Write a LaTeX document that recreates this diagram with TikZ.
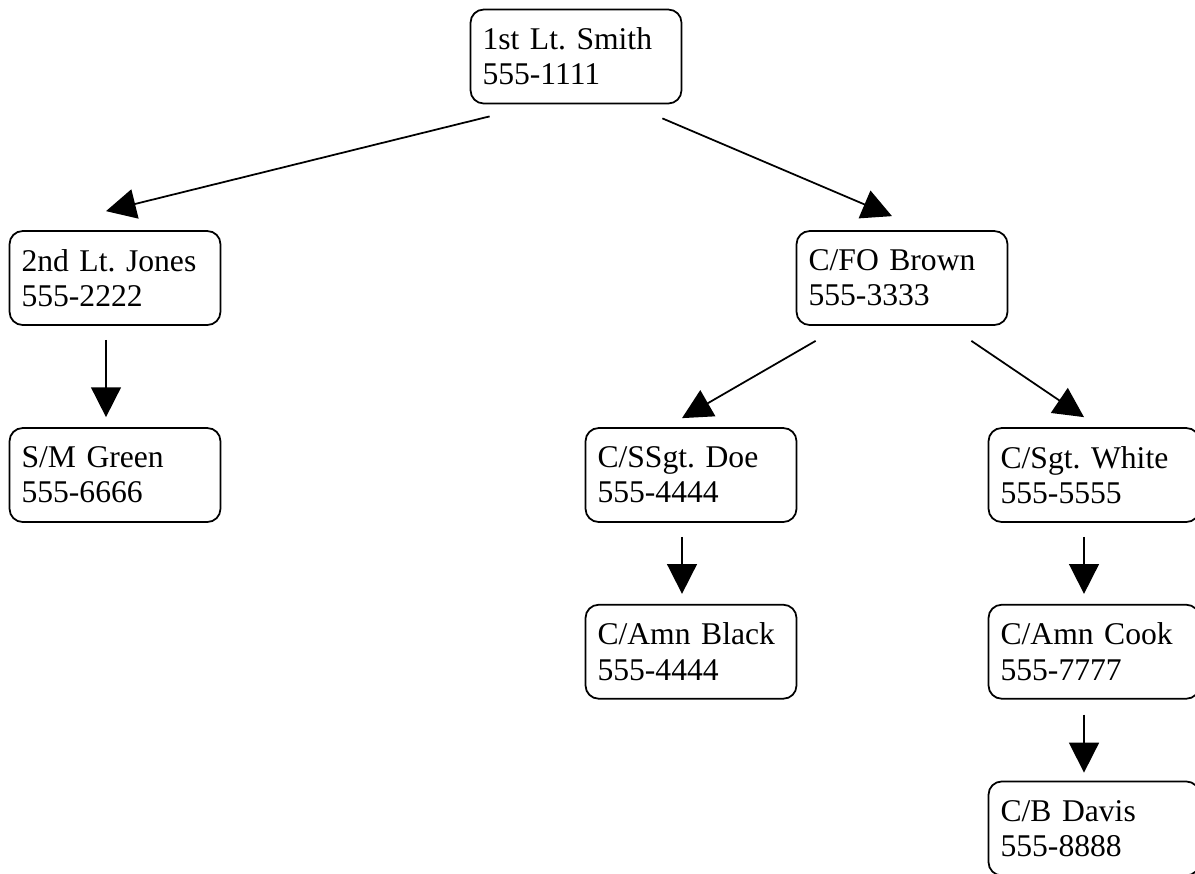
\documentclass[tikz,border=0pt]{standalone}
\usepackage{fontspec}
\setmainfont{Liberation Serif}
\usepackage{tikz}
\usetikzlibrary{positioning,arrows.meta}
\frenchspacing

\begin{document}
\begin{tikzpicture}[
x=0.02cm, y=-0.02cm,
node distance=1.62cm,
box/.style={draw, line width=1pt, rounded corners=7.5pt, align=left, text width=3.74cm, inner xsep=0.24cm, minimum height=1.88cm, font=\fontsize{18}{20}\selectfont},
arr/.style={-{Triangle[length=17pt,width=17pt]}, line width=1pt}
]
\clip (0,0) rectangle (1195,873);
\node[box] (smith) at (576,56.5) {1st Lt. Smith\\555-1111};
\node[box] (jones) at (115,278) {2nd Lt. Jones\\555-2222};
\node[box] (brown) at (902,278) {C/FO Brown\\555-3333};
\node[box] (green) at (115,475) {S/M Green\\555-6666};
\node[box] (doe) at (691,475) {C/SSgt. Doe\\555-4444};
\node[box] (white) at (1094,475) {C/Sgt. White\\555-5555};
\node[box, below=of doe] (black) {C/Amn Black\\555-4444};
\node[box, below=of white] (cook) {C/Amn Cook\\555-7777};
\node[box, below=of cook] (davis) {C/B Davis\\555-8888};

\draw[arr] ([shift={(20,12)}]smith.south west) -- ([shift={(-9,-19)}]jones.north);
\draw[arr] ([shift={(-20,14)}]smith.south east) -- ([shift={(-10,-14)}]brown.north);
\draw[arr] ([shift={(-9,14)}]jones.south) -- ([shift={(-9,-10)}]green.north);
\draw[arr] ([shift={(20,15)}]brown.south west) -- ([shift={(-9,-9)}]doe.north);
\draw[arr] ([shift={(-37,15)}]brown.south east) -- ([shift={(-10,-10)}]white.north);
\draw[arr] ([shift={(-9,14)}]doe.south) -- ([shift={(-9,-10)}]black.north);
\draw[arr] ([shift={(-10,14)}]white.south) -- ([shift={(-10,-10)}]cook.north);
\draw[arr] ([shift={(-10,15)}]cook.south) -- ([shift={(-10,-8)}]davis.north);
\end{tikzpicture}
\end{document}
